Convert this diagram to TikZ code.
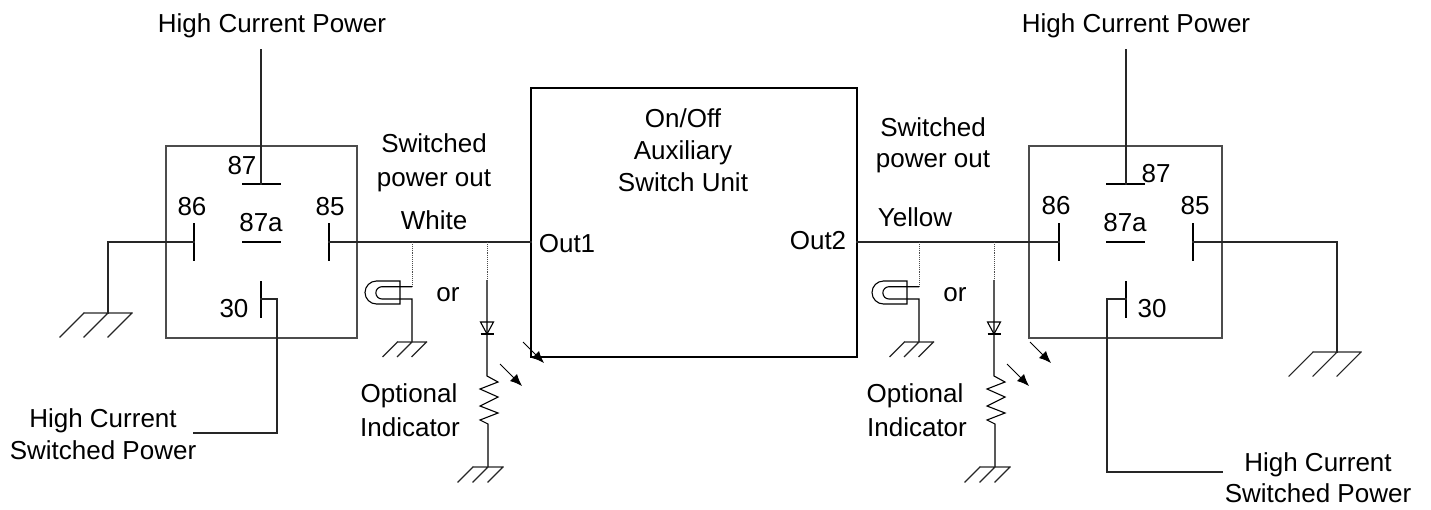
\documentclass[tikz,border=0pt]{standalone}
\usepackage{fontspec}
\setmainfont{Liberation Sans}
\usetikzlibrary{arrows.meta,calc}
\tikzset{
  wire/.style={line width=1.1pt, draw=black!85, line cap=rect},
  contact/.style={line width=1.1pt, draw=black},
  boxline/.style={line width=1.3pt, draw=black!70},
  lbl/.style={font=\fontsize{26}{30}\selectfont, inner sep=0pt, anchor=base},
  dotline/.style={densely dotted, line width=0.9pt, draw=black!70},
  ledarrow/.style={line width=1pt, -{Latex[length=12pt,width=10pt]}},
}
\newcommand{\earthsym}[2]{%
  \begin{scope}[shift={(#1)}]
    \draw[wire] (-#2,0) -- (#2,0)
      (-#2,0) -- ++(-#2,#2) (0,0) -- ++(-#2,#2) (#2,0) -- ++(-#2,#2);
  \end{scope}}
\newcommand{\bulbsym}[1]{%
  \begin{scope}[shift={(#1,0)}]
    \draw[contact] (400,281) -- (376.5,281) arc (270:90:11.5) -- (400,304) -- cycle;
    \draw[contact] (412,286.7) -- (382,286.7) arc (270:90:6.15) -- (412,299) -- (412,342);
    \draw[dotline] (412,242) -- (412,286.7);
  \end{scope}}
\newcommand{\ledsym}[1]{%
  \begin{scope}[shift={(#1,0)}]
    \draw[dotline] (487,242) -- (487,280);
    \draw[contact] (487,280) -- (487,376) -- (498,382) -- (480,389) -- (498,397)
      -- (480,406) -- (498,413) -- (480,420) -- (488,424) -- (488,467);
    \draw[contact] (480.5,322) -- (493.5,322) -- (487,334) -- cycle;
    \draw[contact] (480.5,334) -- (493.5,334);
  \end{scope}}
\begin{document}
\begin{tikzpicture}[x=1pt,y=-1pt]
\useasboundingbox (0,0) rectangle (1431,509);

% ---------- centre unit ----------
\draw[boxline,draw=black] (531,88) rectangle (857,357);
\coordinate (out1) at (531,242);
\coordinate (out2) at (857,242);
\node[lbl] (t1) at (683,127) {On/Off};
\node[lbl] (t2) at (683,159) {Auxiliary};
\node[lbl] (t3) at (683,191) {Switch Unit};
\node[lbl] (o1) at (567,252) {Out1};
\node[lbl] (o2) at (818,249) {Out2};

% ---------- left relay ----------
\draw[boxline] (166,146) rectangle (357,338);
\coordinate (L87) at (261,184);
\coordinate (L87top) at (261,50);
\coordinate (L86) at (194,242);
\coordinate (L85) at (329,242);
\coordinate (Lg) at (108,242);
\coordinate (Lgnd) at (108,313);
\draw[contact] (242,184) -- (281,184);
\draw[wire] (L87top) -- (L87);
\draw[contact] (194,223) -- (194,261);
\draw[contact] (242,242) -- (281,242);
\draw[contact] (329,223) -- (329,261);
\draw[contact] (261,281) -- (261,318);
\draw[wire] (L86) -- (Lg) -- (Lgnd);
\earthsym{Lgnd}{24}
\draw[wire] (L85) -- (out1);
\draw[wire] (261,299) -- (277,299) -- (277,433) -- (194,433);
\node[lbl] (l87) at (242,174) {87};
\node[lbl] (l86) at (192,215) {86};
\node[lbl] (l87a) at (261,231) {87a};
\node[lbl] (l85) at (330,215) {85};
\node[lbl] (l30) at (234,317) {30};
\node[lbl] (lhp) at (272,32) {High Current Power};
\node[lbl] (lhs1) at (103,427) {High Current};
\node[lbl] (lhs2) at (103,459) {Switched Power};

% ---------- left indicators ----------
\bulbsym{0}
\earthsym{412,342}{14.5}
\ledsym{0}
\earthsym{488,467}{15}
\draw[ledarrow] (500,364) -- (522,386);
\draw[ledarrow] (523,342) -- (544,363);
\node[lbl] (lsw1) at (434,152) {Switched};
\node[lbl] (lsw2) at (434,186) {power out};
\node[lbl] (lwh) at (434,229) {White};
\node[lbl] (lor) at (448,301) {or};
\node[lbl] (lop1) at (409,402) {Optional};
\node[lbl] (lop2) at (410,436) {Indicator};

% ---------- right relay ----------
\draw[boxline] (1029,146) rectangle (1222,338);
\coordinate (R87) at (1126,184);
\coordinate (R87top) at (1126,50);
\coordinate (R86) at (1059,242);
\coordinate (R85) at (1193,242);
\coordinate (Rg) at (1337,242);
\coordinate (Rgnd) at (1337,352);
\draw[contact] (1106,184) -- (1145,184);
\draw[wire] (R87top) -- (R87);
\draw[contact] (1059,223) -- (1059,261);
\draw[contact] (1106,242) -- (1145,242);
\draw[contact] (1193,223) -- (1193,261);
\draw[contact] (1126,281) -- (1126,318);
\draw[wire] (out2) -- (R86);
\draw[wire] (R85) -- (Rg) -- (Rgnd);
\earthsym{Rgnd}{24}
\draw[wire] (1126,299) -- (1107,299) -- (1107,472) -- (1222,472);
\node[lbl] (r87) at (1156,182) {87};
\node[lbl] (r86) at (1056,214) {86};
\node[lbl] (r87a) at (1125,231) {87a};
\node[lbl] (r85) at (1195,214) {85};
\node[lbl] (r30) at (1152,317) {30};
\node[lbl] (rhp) at (1136,32) {High Current Power};
\node[lbl] (rhs1) at (1318,471) {High Current};
\node[lbl] (rhs2) at (1318,502) {Switched Power};

% ---------- right indicators ----------
\bulbsym{507}
\earthsym{919,342}{14.5}
\ledsym{507}
\earthsym{995,467}{15}
\draw[ledarrow] (1007,364) -- (1029,386);
\draw[ledarrow] (1030,342) -- (1051,363);
\node[lbl] (rsw1) at (933,136) {Switched};
\node[lbl] (rsw2) at (933,167) {power out};
\node[lbl] (rye) at (915,226) {Yellow};
\node[lbl] (ror) at (955,301) {or};
\node[lbl] (rop1) at (915,402) {Optional};
\node[lbl] (rop2) at (917,436) {Indicator};
\end{tikzpicture}
\end{document}
